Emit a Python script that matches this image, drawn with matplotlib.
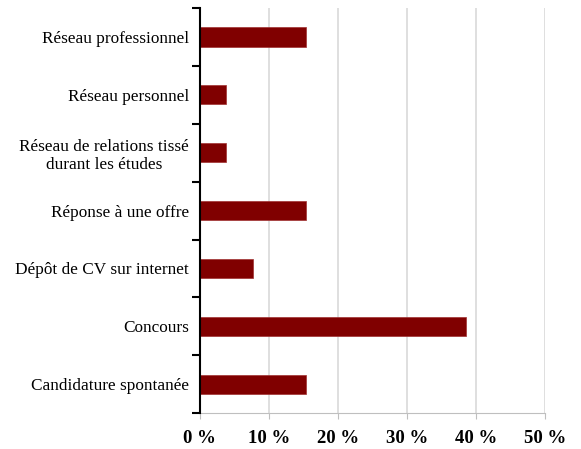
import matplotlib

matplotlib.use("Agg")
import matplotlib.pyplot as plt
import numpy as np

categories = [
    "Réseau professionnel",
    "Réseau personnel",
    "Réseau de relations tissé\ndurant les études",
    "Réponse à une offre",
    "Dépôt de CV sur internet",
    "Concours",
    "Candidature spontanée",
]
values = [15.4, 3.8, 3.8, 15.4, 7.7, 38.5, 15.4]
xticks = [0, 10, 20, 30, 40, 50]

plt.rcParams["font.family"] = ["Liberation Serif", "DejaVu Serif"]

fig = plt.figure(figsize=(5.81, 4.49), dpi=100)
ax = fig.add_axes([0.344, 0.080, 0.594, 0.902])

y = np.arange(len(categories))
ax.barh(y, values, height=0.33, color="#800000", edgecolor="#a03030", linewidth=0.5, zorder=3)

ax.set_xlim(0, 50)
ax.set_ylim(len(categories) - 0.5, -0.5)
ax.set_xticks(xticks)
ax.set_xticklabels([f"{t} %" for t in xticks], fontsize=13.5, fontweight="bold")
ax.set_yticks(y)
ax.set_yticklabels(categories, fontsize=12.4, multialignment="center")
ax.tick_params(axis="y", which="major", length=0, pad=8)
ax.set_yticks(np.arange(-0.5, len(categories), 1), minor=True)
ax.tick_params(axis="y", which="minor", length=6, width=1.5, color="black", direction="out")
ax.tick_params(axis="x", length=4, color="#bfbfbf", pad=8)

ax.grid(axis="x", color="#d9d9d9", linewidth=1.2, zorder=0)
for s in ["top", "right"]:
    ax.spines[s].set_visible(False)
ax.spines["left"].set_linewidth(1.5)
ax.spines["bottom"].set_color("#bfbfbf")
ax.spines["bottom"].set_zorder(4)
ax.spines["left"].set_zorder(5)

fig.savefig("out.png", dpi=100)
